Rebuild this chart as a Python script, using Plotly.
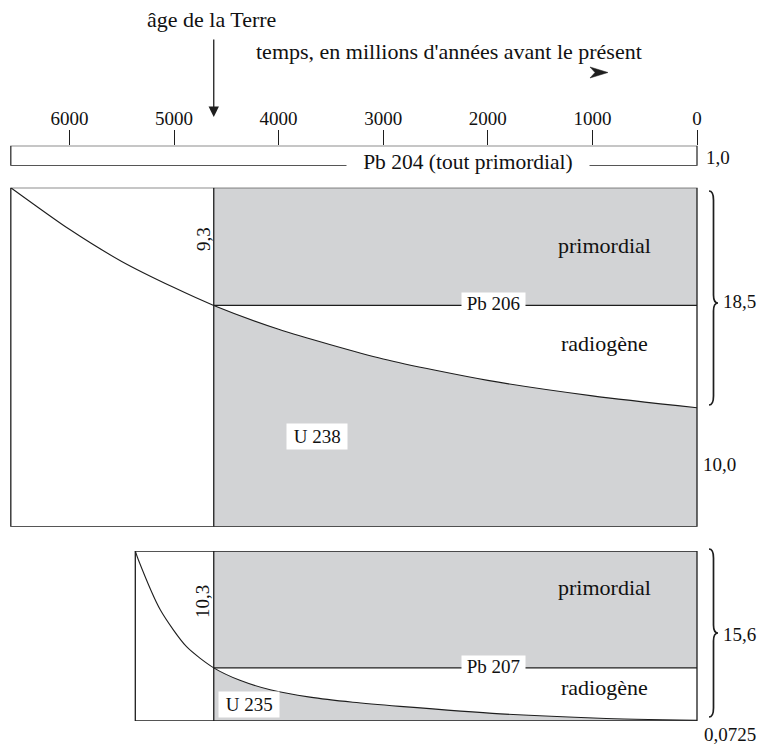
import plotly.graph_objects as go

FW, FH = 765, 747        # figure size; page body adds an 8 px margin
OX, OY = 8, 8
FONT = "Liberation Serif"
INK = "#1e1e1e"
GRAY = "#d2d3d5"

# ---------------- data ----------------
TICKS = [6000, 5000, 4000, 3000, 2000, 1000, 0]
TICK_LABELS = ["6000", "5000", "4000", "3000", "2000", "1000", "0"]

AGE_TERRE = 4620          # Ma
LEFT_PB204 = 6560         # Ma, left end of the Pb 204 bar

PB204 = 1.0

U238_NOW = 10.0
PB206_NOW = 18.5
PB206_LEVEL = 18.6        # height of the Pb206 primordial / radiogenic boundary
T_U238 = [6560, 6000, 5500, 5000, 4620, 4000, 3000, 2000, 1000, 0]
U238 = [28.5, 25.0, 22.3, 20.1, 18.6, 16.6, 14.1, 12.3, 11.0, 10.0]

U235_NOW = 0.0725
PB207_NOW = 15.6
PB207_LEVEL = 4.9         # height of the Pb207 primordial / radiogenic boundary
T_U235 = [5370, 5340, 5130, 4880, 4620, 4370, 4080, 3700, 3290, 2840, 1880, 930, 0]
U235 = [15.67, 14.84, 10.23, 6.85, 4.9, 3.75, 2.88, 2.20, 1.73, 1.35, 0.66, 0.26, 0.0725]

TOP1 = U238_NOW + PB206_NOW
TOP2 = U235_NOW + PB207_NOW

# ---------------- helpers ----------------
def P(x, y):
    return (x - OX) / FW, 1 - (y - OY) / FH

PXK = 0.1046  # px per Ma
XR = [(697 - OX) / PXK, (697 - (OX + FW)) / PXK]

fig = go.Figure()

def panel(t, u, level, top, yax):
    ts = [a for a in t if a <= AGE_TERRE]
    us = [b for a, b in zip(t, u) if a <= AGE_TERRE]
    fig.add_trace(go.Scatter(x=[AGE_TERRE, 0], y=[level, level], mode="lines",
                             line=dict(width=0), yaxis=yax, hoverinfo="skip"))
    fig.add_trace(go.Scatter(x=ts, y=us, mode="lines", fill="tonexty",
                             fillcolor="white", line=dict(width=0, shape="spline", smoothing=0.7),
                             yaxis=yax, hoverinfo="skip"))
    fig.add_trace(go.Scatter(x=t, y=u, mode="lines",
                             line=dict(color=INK, width=1.1, shape="spline", smoothing=0.7),
                             yaxis=yax, hoverinfo="skip"))
    fig.add_trace(go.Scatter(x=[AGE_TERRE, 0], y=[level, level], mode="lines",
                             line=dict(color=INK, width=1.3), yaxis=yax, hoverinfo="skip"))
    fig.add_trace(go.Scatter(x=[AGE_TERRE, AGE_TERRE], y=[0, top], mode="lines",
                             line=dict(color=INK, width=1.3), yaxis=yax, hoverinfo="skip"))
    fig.add_shape(type="rect", xref="x", yref=yax, x0=AGE_TERRE, x1=0, y0=0, y1=top,
                  fillcolor=GRAY, line=dict(width=0), layer="below")
    fig.add_shape(type="rect", xref="x", yref=yax, x0=t[0], x1=0, y0=0, y1=top,
                  line=dict(color=INK, width=1.3), layer="above")

panel(T_U238, U238, PB206_LEVEL, TOP1, "y2")
panel(T_U235, U235, PB207_LEVEL, TOP2, "y3")

# Pb 204 bar
fig.add_shape(type="rect", xref="x", yref="y", x0=LEFT_PB204, x1=0, y0=0, y1=PB204,
              line=dict(color=INK, width=1.2), layer="above")

# braces
def brace(yt, ym, yb, xe=709, xs=713.5, xt=718):
    def p(x, y):
        a, b = P(x, y)
        return f"{a:.5f},{b:.5f}"
    return (f"M {p(xe, yt)} Q {p(xs, yt)} {p(xs, yt + 9)} L {p(xs, ym - 8)} "
            f"Q {p(xs, ym)} {p(xt, ym)} Q {p(xs, ym)} {p(xs, ym + 8)} "
            f"L {p(xs, yb - 9)} Q {p(xs, yb)} {p(xe, yb)}")

for yt, ym, yb in [(191, 303, 405), (549, 633, 717)]:
    fig.add_shape(type="path", xref="paper", yref="paper", path=brace(yt, ym, yb),
                  line=dict(color=INK, width=1.7))

# small arrowhead near "présent"
a = [P(590, 67), P(608, 72.5), P(590, 78), P(595, 72.5)]
fig.add_shape(type="path", xref="paper", yref="paper",
              path="M " + " L ".join(f"{x:.5f},{y:.5f}" for x, y in a) + " Z",
              fillcolor=INK, line=dict(color=INK, width=0.5))

# ---------------- annotations ----------------
def txt(text, x, y, size=19, xanchor="center", angle=0, bg=None, pad=0):
    px, py = P(x, y)
    fig.add_annotation(text=text, x=px, y=py, xref="paper", yref="paper",
                       xanchor=xanchor, yanchor="middle", showarrow=False,
                       textangle=angle, bgcolor=bg, borderpad=pad,
                       font=dict(family=FONT, size=size, color="#111"))

NB = "\u00a0"
txt("âge de la Terre", 211, 20, size=22)
txt("temps, en millions d'années avant le présent", 449, 52, size=22)
txt(NB * 3 + "Pb 204 (tout primordial)" + NB * 3, 468, 162, size=21.5, bg="white")
txt("1,0", 705, 157, xanchor="left")

txt("primordial", 604, 246, size=22)
txt("radiogène", 604, 343, size=22)
txt(NB + "Pb 206" + NB, 493, 303, bg="white")
txt(NB + "U 238" + NB, 317, 436, bg="white", pad=2)
txt("9,3", 203, 239, angle=-90)
txt("18,5", 722, 301, xanchor="left")
txt("10,0", 702, 464, xanchor="left")

txt("primordial", 604, 587, size=22)
txt("radiogène", 604, 687, size=22)
txt(NB + "Pb 207" + NB, 493, 666, bg="white")
txt(NB + "U 235" + NB, 249, 704, bg="white", pad=2)
txt("10,3", 202, 602, angle=-90)
txt("15,6", 722, 634, xanchor="left")
txt("0,0725", 703, 734, xanchor="left")

# earth-age arrow
fig.add_annotation(x=AGE_TERRE, y=P(0, 117)[1], xref="x", yref="paper", text="",
                   showarrow=True, ax=0, ay=-79, arrowhead=2, arrowsize=1.6,
                   arrowwidth=1.3, arrowcolor=INK)

d_bar = [P(0, 165.7)[1], P(0, 145.7)[1]]
d_p1 = [P(0, 526.7)[1], P(0, 187.7)[1]]
d_p2 = [P(0, 721)[1], P(0, 551)[1]]

fig.update_layout(
    width=FW, height=FH, margin=dict(l=0, r=0, t=0, b=0),
    paper_bgcolor="white", plot_bgcolor="white", showlegend=False,
    xaxis=dict(range=XR, domain=[0, 1], side="top", anchor="y",
               tickvals=TICKS, ticktext=TICK_LABELS, ticks="outside", ticklen=15,
               tickwidth=1.2, tickcolor=INK, showgrid=False, zeroline=False,
               showline=False, ticklabelstandoff=-3,
               tickfont=dict(family=FONT, size=19, color="#111")),
    yaxis=dict(domain=d_bar, range=[0, PB204], visible=False),
    yaxis2=dict(domain=d_p1, range=[0, TOP1], visible=False, anchor="x"),
    yaxis3=dict(domain=d_p2, range=[0, TOP2], visible=False, anchor="x"),
)

fig.write_html("out.html")
